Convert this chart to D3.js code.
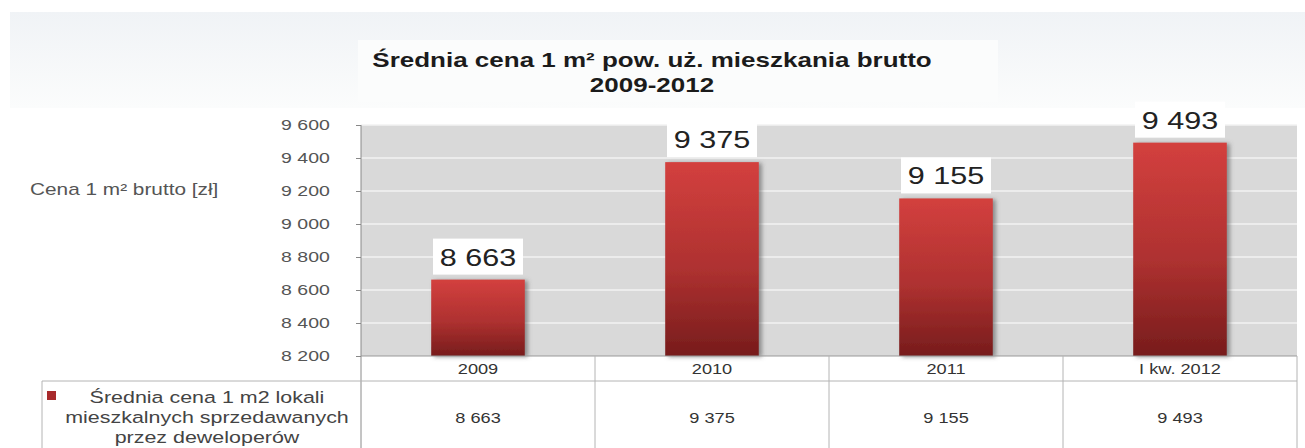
<!DOCTYPE html>
<html>
<head>
<meta charset="utf-8">
<script src="https://cdn.jsdelivr.net/npm/d3@7"></script>
<style>
  html, body { margin: 0; padding: 0; background: #fff; }
  svg { display: block; font-family: "Liberation Sans", Arial, sans-serif; }
</style>
</head>
<body>
<div id="chart"></div>
<script>
// dane
const categories = ['2009', '2010', '2011', 'I kw. 2012'];
const values = [8663, 9375, 9155, 9493];
const yTicks = [8200, 8400, 8600, 8800, 9000, 9200, 9400, 9600];
const titleLines = ['Średnia cena 1 m² pow. uż. mieszkania brutto', '2009-2012'];
const yTitleText = 'Cena 1 m² brutto [zł]';
const legendLines = ['Średnia cena 1 m2 lokali', 'mieszkalnych sprzedawanych', 'przez deweloperów'];

const width = 1305, height = 448;
const SX = 1.3; // obraz jest rozciągnięty w poziomie
const plot = { left: 361, right: 1297, top: 125, bottom: 356 };
const tableRow = 381, tableLeft = 42;

const pl = d3.formatLocale({ decimal: ',', thousands: ' ', grouping: [3], currency: ['', ' zł'] });
const fmt = pl.format(',d');

const svg = d3.select('#chart').append('svg')
  .attr('width', width)
  .attr('height', height);

const defs = svg.append('defs');
const bg = defs.append('linearGradient').attr('id', 'topbg').attr('x1', 0).attr('y1', 0).attr('x2', 0).attr('y2', 1);
bg.append('stop').attr('offset', '0%').attr('stop-color', '#f0f3f6');
bg.append('stop').attr('offset', '100%').attr('stop-color', '#fbfcfc');

const barGrad = defs.append('linearGradient').attr('id', 'bar').attr('x1', 0).attr('y1', 0).attr('x2', 0).attr('y2', 1);
barGrad.append('stop').attr('offset', '0%').attr('stop-color', '#d3403e');
barGrad.append('stop').attr('offset', '55%').attr('stop-color', '#ae3130');
barGrad.append('stop').attr('offset', '100%').attr('stop-color', '#771c1c');

const shadow = defs.append('filter').attr('id', 'shadow').attr('x', '-20%').attr('y', '-10%').attr('width', '150%').attr('height', '130%');
shadow.append('feDropShadow').attr('dx', 3).attr('dy', 1).attr('stdDeviation', 2)
  .attr('flood-color', '#555').attr('flood-opacity', 0.6);

// helper: tekst rozciągnięty w poziomie
function sText(g, x, y, str) {
  return g.append('text')
    .attr('transform', `translate(${x},${y}) scale(${SX},1)`)
    .text(str);
}

// --- tło nagłówka ---
svg.append('rect').attr('x', 10).attr('y', 12).attr('width', width - 10).attr('height', 96).attr('fill', 'url(#topbg)');
svg.append('rect').attr('x', 358).attr('y', 40).attr('width', 640).attr('height', 62).attr('fill', '#fbfcfc');

// --- tytuł ---
const title = svg.append('g')
  .attr('font-weight', 'bold')
  .attr('font-size', '20px')
  .attr('fill', '#1b1b1b')
  .attr('text-anchor', 'middle');
titleLines.forEach((t, i) => sText(title, 652, 67 + i * 25, t));

// --- skale ---
const x = d3.scaleBand().domain(categories).range([plot.left, plot.right]).paddingInner(0.6).paddingOuter(0.3);
const xCol = d3.scaleBand().domain(categories).range([plot.left, plot.right]).padding(0);
const y = d3.scaleLinear().domain([8200, 9600]).range([plot.bottom, plot.top]);

// --- obszar wykresu ---
svg.append('rect')
  .attr('x', plot.left).attr('y', plot.top)
  .attr('width', plot.right - plot.left).attr('height', plot.bottom - plot.top)
  .attr('fill', '#d9d9d9');

svg.append('g')
  .selectAll('line')
  .data(yTicks.slice(1))
  .join('line')
  .attr('x1', plot.left).attr('x2', plot.right)
  .attr('y1', d => y(d)).attr('y2', d => y(d))
  .attr('stroke', '#f2f2f2')
  .attr('stroke-width', 1.5);

// oś Y
const yAxis = svg.append('g')
  .attr('transform', `translate(${plot.left},0)`)
  .call(d3.axisLeft(y).tickValues(yTicks).tickFormat(fmt).tickSize(5).tickPadding(19));
yAxis.select('.domain').remove();
yAxis.selectAll('.tick line').attr('stroke', '#888');
yAxis.selectAll('.tick text')
  .attr('transform', `scale(${SX},1)`)
  .attr('font-size', '15px')
  .attr('fill', '#555');

const yTitle = svg.append('g').attr('font-size', '16px').attr('fill', '#555');
sText(yTitle, 30, 195, yTitleText);

// --- słupki ---
const bars = svg.append('g');
bars.selectAll('rect')
  .data(values)
  .join('rect')
  .attr('x', (d, i) => x(categories[i]))
  .attr('y', d => y(d))
  .attr('width', x.bandwidth())
  .attr('height', d => y(8200) - y(d))
  .attr('fill', 'url(#bar)')
  .attr('filter', 'url(#shadow)');

// etykiety danych
const labels = svg.append('g')
  .selectAll('g')
  .data(values)
  .join('g')
  .attr('transform', (d, i) => `translate(${x(categories[i]) + x.bandwidth() / 2},${y(d) - 5})`);
labels.append('rect')
  .attr('x', -45).attr('y', -36)
  .attr('width', 90).attr('height', 36)
  .attr('fill', '#fff');
labels.append('text')
  .attr('transform', `translate(0,-9) scale(${SX},1)`)
  .attr('text-anchor', 'middle')
  .attr('font-size', '23.5px')
  .attr('fill', '#222')
  .text(d => fmt(d));

// --- tabela danych ---
const grid = svg.append('g').attr('stroke', '#b4b4b4').attr('stroke-width', 1);
grid.append('line')
  .attr('x1', plot.left).attr('x2', plot.left)
  .attr('y1', plot.top).attr('y2', height)
  .attr('stroke', '#8a8a8a');
grid.append('line')
  .attr('x1', plot.left).attr('x2', plot.right)
  .attr('y1', plot.bottom).attr('y2', plot.bottom)
  .attr('stroke', '#999');
grid.append('line')
  .attr('x1', tableLeft).attr('x2', plot.right)
  .attr('y1', tableRow).attr('y2', tableRow);
grid.append('line')
  .attr('x1', tableLeft).attr('x2', tableLeft)
  .attr('y1', tableRow).attr('y2', height);
grid.selectAll('line.col')
  .data(categories)
  .join('line')
  .attr('class', 'col')
  .attr('x1', d => xCol(d) + xCol.bandwidth()).attr('x2', d => xCol(d) + xCol.bandwidth())
  .attr('y1', plot.bottom).attr('y2', height);

const table = svg.append('g').attr('font-size', '14px').attr('fill', '#333').attr('text-anchor', 'middle');
categories.forEach((c, i) => {
  const cx = xCol(c) + xCol.bandwidth() / 2;
  sText(table, cx, 374, c);
  sText(table, cx, 423, fmt(values[i]));
});

// legenda
svg.append('rect').attr('x', 47).attr('y', 391).attr('width', 9).attr('height', 9).attr('fill', '#a82a2c');
const legend = svg.append('g').attr('font-size', '16.5px').attr('fill', '#444').attr('text-anchor', 'middle');
legendLines.forEach((t, i) => sText(legend, 207, 403 + i * 20, t));
</script>
</body>
</html>
